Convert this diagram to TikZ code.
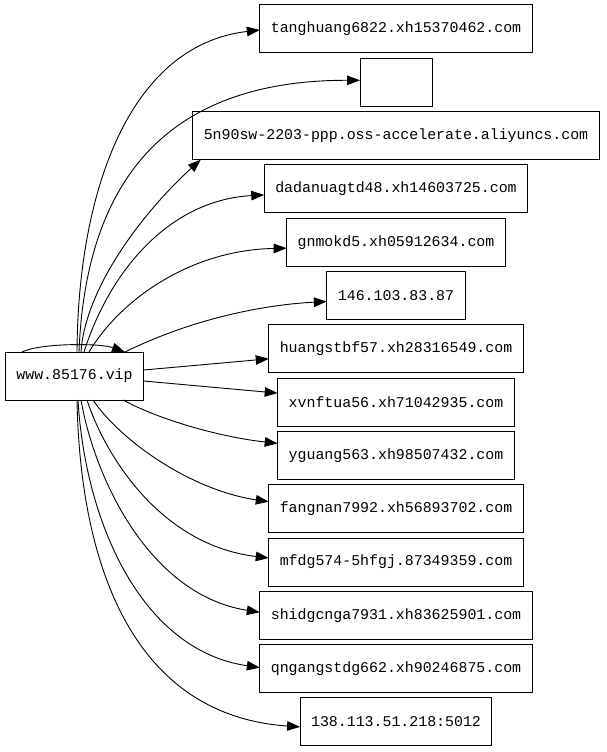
\documentclass[tikz,border=0pt]{standalone}
\usepackage{fontspec}
\setmonofont{Liberation Mono}
\usetikzlibrary{positioning, arrows.meta}

\begin{document}
\begin{tikzpicture}[x=1pt, y=-1pt, >={Triangle[length=13pt, width=9.5pt]},
	host/.style={draw, line width=1pt, minimum height=48pt, inner xsep=11pt, outer sep=0pt,
		font=\fontsize{14.9}{18}\selectfont\ttfamily},
	link/.style={->, line width=0.9pt}]
		\fill[white] (0,0) rectangle (607,752);
		\useasboundingbox (0,0) rectangle (607,752);

		% Nodes
		\node[host] (www) at (74.5,376) {www.85176.vip};
		\node[host] (t1) at (396,29) {tanghuang6822.xh15370462.com};
		\node[host, minimum width=72pt, below=5.3pt of t1] (t2) {};
		\node[host, below=5.3pt of t2] (t3) {5n90sw-2203-ppp.oss-accelerate.aliyuncs.com};
		\node[host, below=5.3pt of t3] (t4) {dadanuagtd48.xh14603725.com};
		\node[host, below=5.3pt of t4] (t5) {gnmokd5.xh05912634.com};
		\node[host, below=5.3pt of t5] (t6) {146.103.83.87};
		\node[host, below=5.3pt of t6] (t7) {huangstbf57.xh28316549.com};
		\node[host, below=5.3pt of t7] (t8) {xvnftua56.xh71042935.com};
		\node[host, below=5.3pt of t8] (t9) {yguang563.xh98507432.com};
		\node[host, below=5.3pt of t9] (t10) {fangnan7992.xh56893702.com};
		\node[host, below=5.3pt of t10] (t11) {mfdg574-5hfgj.87349359.com};
		\node[host, below=5.3pt of t11] (t12) {shidgcnga7931.xh83625901.com};
		\node[host, below=5.3pt of t12] (t13) {qngangstdg662.xh90246875.com};
		\node[host, below=5.3pt of t13] (t14) {138.113.51.218:5012};

		% Self loop
		\draw[link] ([xshift=-52.5pt]www.north) .. controls (40,343) and (100,343) .. ([xshift=50.5pt]www.north);

		% Upper edges
		\draw[link] ([xshift=2.5pt]www.north) .. controls (78,190) and (130,45) .. ([yshift=-1pt]t1.west);
		\draw[link] ([xshift=4.5pt]www.north) .. controls (85,200) and (150,80) .. ([yshift=2pt]t2.west);
		\draw[link] ([xshift=6.5pt]www.north) .. controls (85,290) and (140,215) .. ([xshift=8pt]t3.south west);
		\draw[link] ([xshift=9.5pt]www.north) .. controls (110,270) and (170,200) .. ([yshift=-6pt]t4.west);
		\draw[link] ([xshift=14.5pt]www.north) .. controls (120,300) and (190,250) .. ([yshift=-6pt]t5.west);
		\draw[link] ([xshift=50.5pt]www.north) .. controls (190,320) and (260,305) .. ([yshift=-6pt]t6.west);

		% Side edges
		\draw[link] ([yshift=6pt]www.east) -- ([yshift=-10pt]t7.west);
		\draw[link] ([yshift=-5pt]www.east) -- ([yshift=9pt]t8.west);

		% Lower edges
		\draw[link] ([xshift=48.5pt]www.south) .. controls (160,420) and (220,437) .. ([yshift=12pt]t9.west);
		\draw[link] ([xshift=18.5pt]www.south) .. controls (120,440) and (190,490) .. ([yshift=7pt]t10.west);
		\draw[link] ([xshift=12.5pt]www.south) .. controls (105,455) and (160,545) .. ([yshift=4pt]t11.west);
		\draw[link] ([xshift=6.5pt]www.south) .. controls (95,480) and (150,595) .. ([yshift=3pt]t12.west);
		\draw[link] ([xshift=3.5pt]www.south) .. controls (85,520) and (140,650) .. ([yshift=1pt]t13.west);
		\draw[link] ([xshift=2.5pt]www.south) .. controls (80,560) and (130,715) .. ([yshift=-5pt]t14.west);
	\end{tikzpicture}
\end{document}
